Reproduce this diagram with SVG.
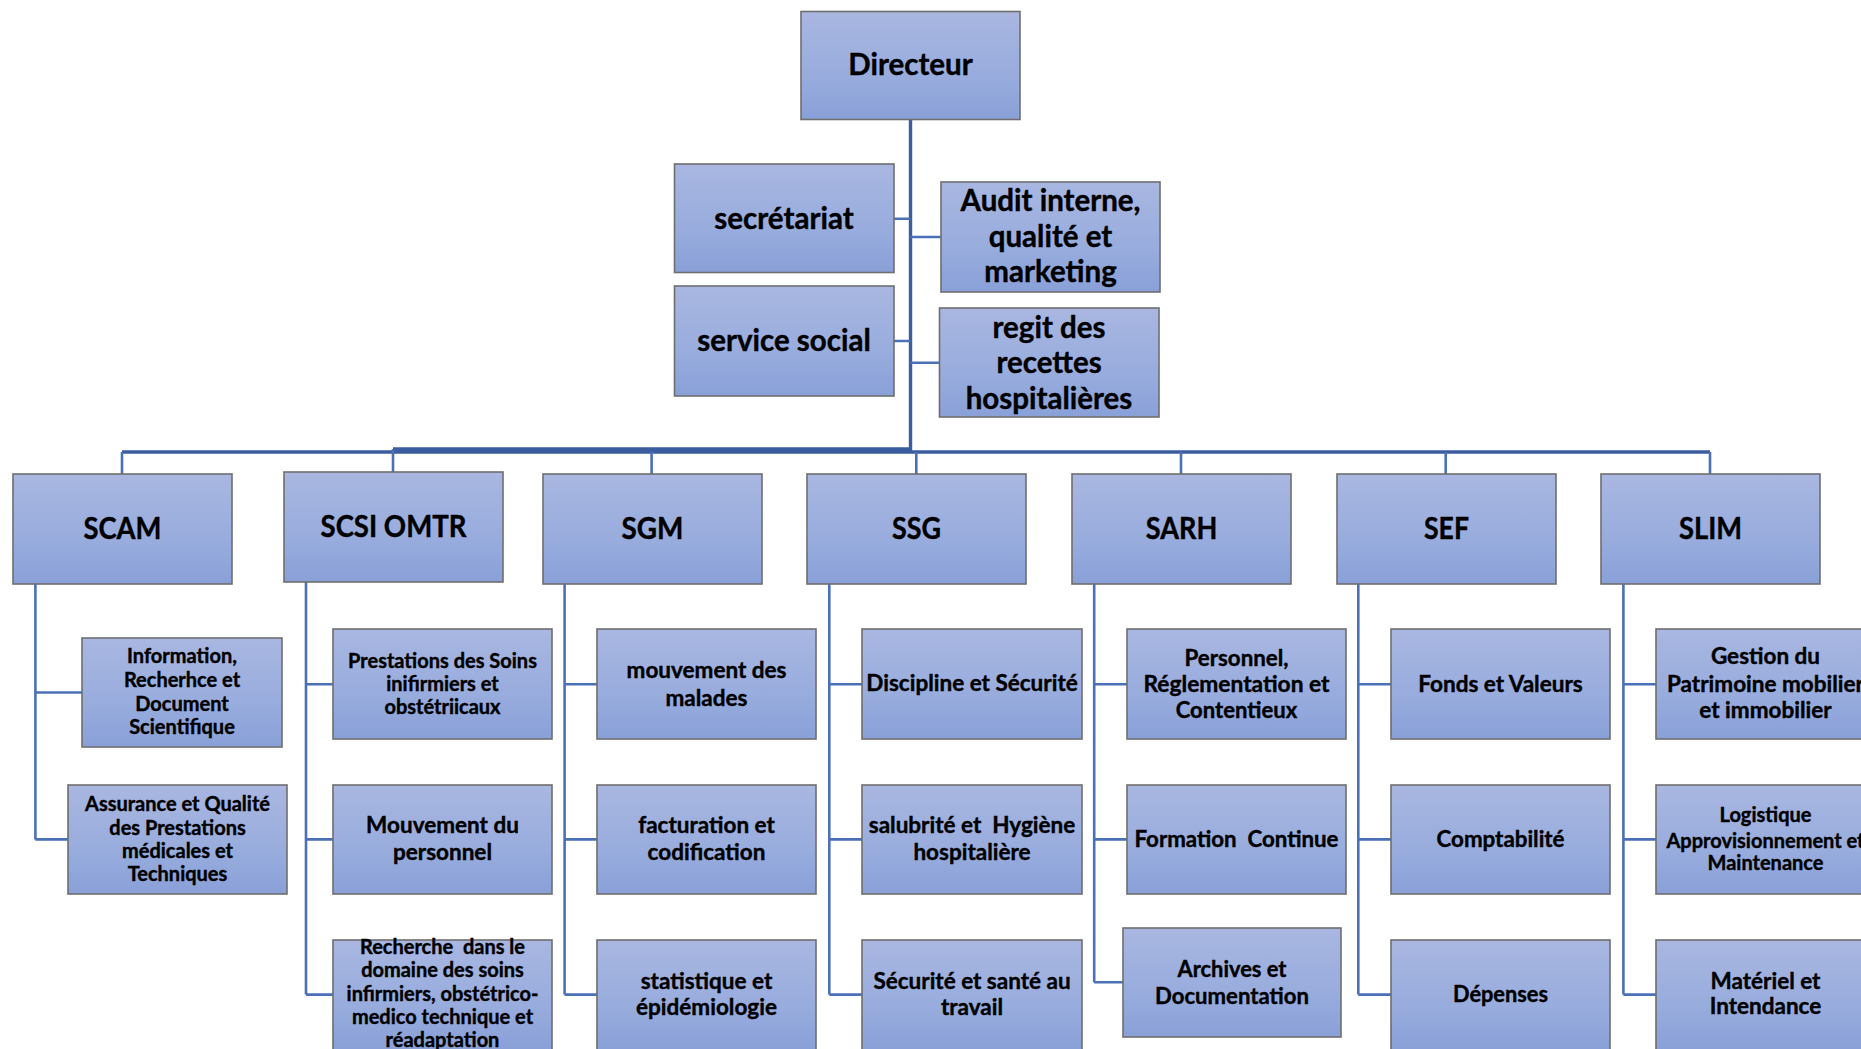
<svg xmlns="http://www.w3.org/2000/svg" width="1861" height="1049" viewBox="0 0 1861 1049">
<defs>
<linearGradient id="g" x1="0" y1="0" x2="0" y2="1">
<stop offset="0" stop-color="#A9B7E1"/>
<stop offset="0.6" stop-color="#98ACDD"/>
<stop offset="1" stop-color="#89A0D8"/>
</linearGradient>
</defs>
<style>
.b{fill:url(#g);stroke:#6e6e6e;stroke-width:1.6}
.t{font-family:Lato,"Open Sans","Liberation Sans",sans-serif;font-weight:bold;fill:#000;stroke:#000;stroke-width:0.4;text-anchor:middle}
.h{font-size:29.5px}
.m{font-size:30px}
.s{font-size:22.5px}
.x{font-size:20px}
.c{stroke:#4A70B8;stroke-width:2.6;fill:none}
.k{stroke:#3B5C9E;stroke-width:3.4;fill:none}
</style>
<rect width="1861" height="1049" fill="#fff"/>
<g id="connectors">
<path class="k" d="M910.5 119V452M393 449H911M122 452H1710"/>
<path class="c" d="M894 218.7H910.5M910.5 237H941M894 341H910.5M910.5 362.7H939.5"/>
<path class="c" d="M122 452V474M393 449V472M651.6 452V474M916.3 452V474M1181 452V474M1445.7 452V474M1710 452V474"/>
<path class="c" d="M35.4 584V839.4M35.4 692.5H82M35.4 839.4H68"/>
<path class="c" d="M306 582V994.6M306 684.3H333M306 839.4H333M306 994.6H333"/>
<path class="c" d="M564.6 584V994.6M564.6 684.3H597M564.6 839.4H597M564.6 994.6H597"/>
<path class="c" d="M829.3 584V994.6M829.3 684.3H862M829.3 839.4H862M829.3 994.6H862"/>
<path class="c" d="M1094.2 584V982.2M1094.2 684.3H1127M1094.2 839.4H1127M1094.2 982.2H1123"/>
<path class="c" d="M1358.3 584V994.6M1358.3 684.3H1391M1358.3 839.4H1391M1358.3 994.6H1391"/>
<path class="c" d="M1623.4 584V994.6M1623.4 684.3H1656M1623.4 839.4H1656M1623.4 994.6H1656"/>
</g>
<g id="directeur"><rect class="b" x="801" y="11.5" width="219" height="108"/><text class="t h" x="910.5" y="75">Directeur</text></g>
<g id="secretariat"><rect class="b" x="674.5" y="164" width="219.5" height="108.5"/><text class="t h" x="784" y="228.5">secrétariat</text></g>
<g id="service-social"><rect class="b" x="674.5" y="286" width="219.5" height="110"/><text class="t h" x="784" y="351">service social</text></g>
<g id="audit"><rect class="b" x="941" y="182" width="219" height="110"/><text class="t h" x="1050.5" y="211">Audit interne,</text><text class="t h" x="1050.5" y="246.5">qualité et</text><text class="t h" x="1050.5" y="282">marketing</text></g>
<g id="regit"><rect class="b" x="939.5" y="308" width="219.5" height="109"/><text class="t h" x="1049" y="337.5">regit des</text><text class="t h" x="1049" y="373">recettes</text><text class="t h" x="1049" y="408.5">hospitalières</text></g>

<g id="scam"><rect class="b" x="13" y="474" width="219" height="110"/><text class="t m" x="122.5" y="539" textLength="78" lengthAdjust="spacingAndGlyphs">SCAM</text></g>
<g id="scsi"><rect class="b" x="284" y="472" width="219" height="110"/><text class="t m" x="393.5" y="537.3" textLength="146" lengthAdjust="spacingAndGlyphs">SCSI OMTR</text></g>
<g id="sgm"><rect class="b" x="543" y="474" width="219" height="110"/><text class="t m" x="652.5" y="539" textLength="62" lengthAdjust="spacingAndGlyphs">SGM</text></g>
<g id="ssg"><rect class="b" x="807" y="474" width="219" height="110"/><text class="t m" x="916.5" y="539" textLength="49" lengthAdjust="spacingAndGlyphs">SSG</text></g>
<g id="sarh"><rect class="b" x="1072" y="474" width="219" height="110"/><text class="t m" x="1181.5" y="539" textLength="71.5" lengthAdjust="spacingAndGlyphs">SARH</text></g>
<g id="sef"><rect class="b" x="1337" y="474" width="219" height="110"/><text class="t m" x="1446.5" y="539" textLength="45" lengthAdjust="spacingAndGlyphs">SEF</text></g>
<g id="slim"><rect class="b" x="1601" y="474" width="219" height="110"/><text class="t m" x="1710.5" y="539" textLength="63" lengthAdjust="spacingAndGlyphs">SLIM</text></g>

<g id="info"><rect class="b" x="82" y="638" width="200" height="109"/><text class="t x" x="182" y="663">Information,</text><text class="t x" x="182" y="687">Recherhce et</text><text class="t x" x="182" y="710.5">Document</text><text class="t x" x="182" y="734">Scientifique</text></g>
<g id="assurance"><rect class="b" x="68" y="785" width="219" height="109"/><text class="t x" x="177.5" y="811">Assurance et Qualité</text><text class="t x" x="177.5" y="834.5">des Prestations</text><text class="t x" x="177.5" y="858">médicales et</text><text class="t x" x="177.5" y="881">Techniques</text></g>

<g id="prestations"><rect class="b" x="333" y="629" width="219" height="110"/><text class="t x" x="442.5" y="667.5">Prestations des Soins</text><text class="t x" x="442.5" y="691">inifirmiers et</text><text class="t x" x="442.5" y="713.5">obstétriicaux</text></g>
<g id="mouvement-personnel"><rect class="b" x="333" y="785" width="219" height="109"/><text class="t s" x="442.5" y="832.5">Mouvement du</text><text class="t s" x="442.5" y="860">personnel</text></g>
<g id="recherche"><rect class="b" x="333" y="940" width="219" height="110"/><text class="t x" x="442.5" y="953.5">Recherche&#160; dans le</text><text class="t x" x="442.5" y="977.3">domaine des soins</text><text class="t x" x="442.5" y="1000.7">infirmiers, obstétrico-</text><text class="t x" x="442.5" y="1024.3">medico technique et</text><text class="t x" x="442.5" y="1047">réadaptation</text></g>

<g id="mouvement-malades"><rect class="b" x="597" y="629" width="219" height="110"/><text class="t s" x="706.5" y="678">mouvement des</text><text class="t s" x="706.5" y="705.5">malades</text></g>
<g id="facturation"><rect class="b" x="597" y="785" width="219" height="109"/><text class="t s" x="706.5" y="832.5">facturation et</text><text class="t s" x="706.5" y="860">codification</text></g>
<g id="statistique"><rect class="b" x="597" y="940" width="219" height="110"/><text class="t s" x="706.5" y="989">statistique et</text><text class="t s" x="706.5" y="1015">épidémiologie</text></g>

<g id="discipline"><rect class="b" x="862" y="629" width="220" height="110"/><text class="t s" x="972" y="691">Discipline et Sécurité</text></g>
<g id="salubrite"><rect class="b" x="862" y="785" width="220" height="109"/><text class="t s" x="972" y="832.5">salubrité et&#160; Hygiène</text><text class="t s" x="972" y="860">hospitalière</text></g>
<g id="securite-sante"><rect class="b" x="862" y="940" width="220" height="110"/><text class="t s" x="972" y="989">Sécurité et santé au</text><text class="t s" x="972" y="1015">travail</text></g>

<g id="personnel"><rect class="b" x="1127" y="629" width="219" height="110"/><text class="t s" x="1236.5" y="665.5" textLength="104" lengthAdjust="spacingAndGlyphs">Personnel,</text><text class="t s" x="1236.5" y="692" textLength="186" lengthAdjust="spacingAndGlyphs">Réglementation et</text><text class="t s" x="1236.5" y="718" textLength="121.5" lengthAdjust="spacingAndGlyphs">Contentieux</text></g>
<g id="formation"><rect class="b" x="1127" y="785" width="219" height="109"/><text class="t s" x="1236.5" y="847" textLength="204" lengthAdjust="spacingAndGlyphs">Formation&#160; Continue</text></g>
<g id="archives"><rect class="b" x="1123" y="928" width="218" height="109"/><text class="t s" x="1232" y="977" textLength="109" lengthAdjust="spacingAndGlyphs">Archives et</text><text class="t s" x="1232" y="1003.5" textLength="154" lengthAdjust="spacingAndGlyphs">Documentation</text></g>

<g id="fonds"><rect class="b" x="1391" y="629" width="219" height="110"/><text class="t s" x="1500.5" y="692" textLength="164.5" lengthAdjust="spacingAndGlyphs">Fonds et Valeurs</text></g>
<g id="comptabilite"><rect class="b" x="1391" y="785" width="219" height="109"/><text class="t s" x="1500.5" y="847" textLength="128" lengthAdjust="spacingAndGlyphs">Comptabilité</text></g>
<g id="depenses"><rect class="b" x="1391" y="940" width="219" height="110"/><text class="t s" x="1500.5" y="1001.5" textLength="95" lengthAdjust="spacingAndGlyphs">Dépenses</text></g>

<g id="gestion"><rect class="b" x="1656" y="629" width="219" height="110"/><text class="t s" x="1765.5" y="664">Gestion du</text><text class="t s" x="1765.5" y="691.5">Patrimoine mobilier</text><text class="t s" x="1765.5" y="717.5">et immobilier</text></g>
<g id="logistique"><rect class="b" x="1656" y="785" width="219" height="109"/><text class="t x" x="1765.5" y="822">Logistique</text><text class="t x" x="1765.5" y="847.5">Approvisionnement et</text><text class="t x" x="1765.5" y="869.5">Maintenance</text></g>
<g id="materiel"><rect class="b" x="1656" y="940" width="219" height="110"/><text class="t s" x="1765.5" y="989">Matériel et</text><text class="t s" x="1765.5" y="1014">Intendance</text></g>
</svg>
